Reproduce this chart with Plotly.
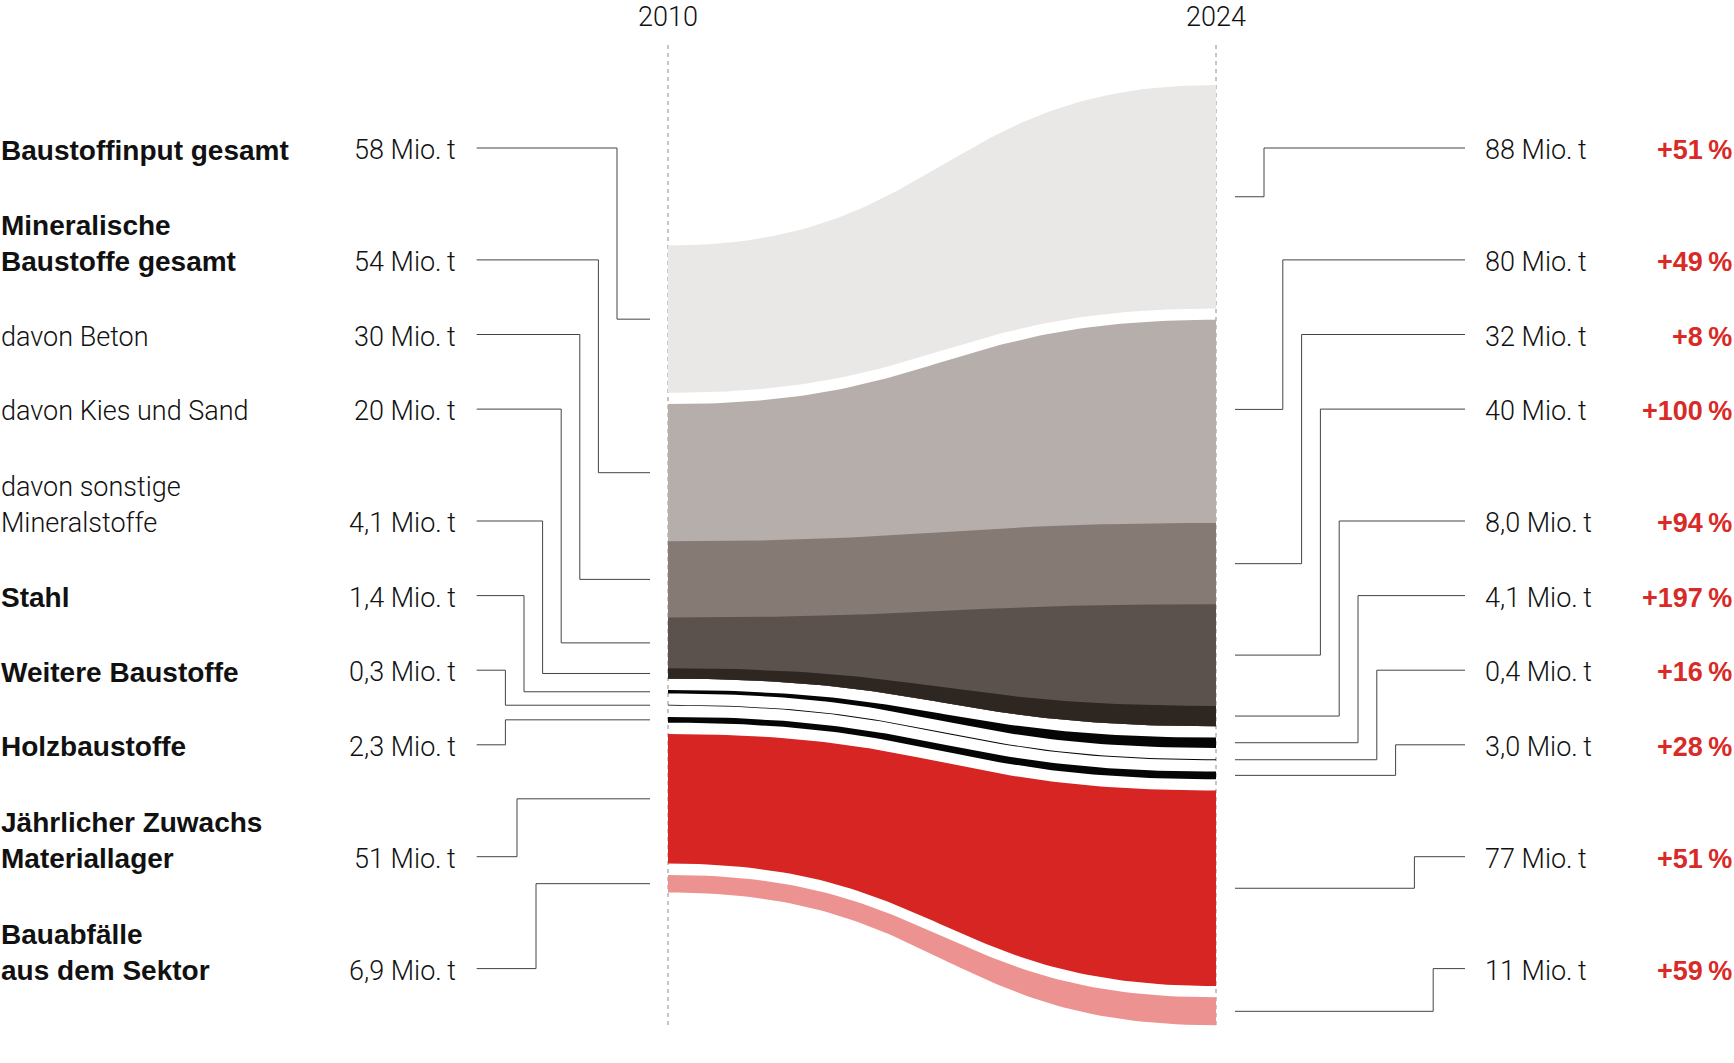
import numpy as np
import plotly.graph_objects as go

# ---------------- data ----------------
years = [2010, 2024]
label_lines = [
    ["Baustoffinput gesamt"],
    ["Mineralische", "Baustoffe gesamt"],
    ["davon Beton"],
    ["davon Kies und Sand"],
    ["davon sonstige", "Mineralstoffe"],
    ["Stahl"],
    ["Weitere Baustoffe"],
    ["Holzbaustoffe"],
    ["Jährlicher Zuwachs", "Materiallager"],
    ["Bauabfälle", "aus dem Sektor"],
]
label_bold = [True, True, False, False, False, True, True, True, True, True]
values_2010 = [58, 54, 30, 20, 4.1, 1.4, 0.3, 2.3, 51, 6.9]
values_2024 = [88, 80, 32, 40, 8.0, 4.1, 0.4, 3.0, 77, 11]
value_text_2010 = ["58", "54", "30", "20", "4,1", "1,4", "0,3", "2,3", "51", "6,9"]
value_text_2024 = ["88", "80", "32", "40", "8,0", "4,1", "0,4", "3,0", "77", "11"]
change_text = ["+51", "+49", "+8", "+100", "+94", "+197", "+16", "+28", "+51", "+59"]
unit = "Mio.\u2009t"

# ---------------- styles / layout ----------------
colors = ["#e9e8e6", "#b5aeab", "#867a75", "#5c524d", "#2d2621",
          "#050505", "#050505", "#050505", "#d62523", "#ec9291"]
gap_before = [False, True, False, False, False, True, True, True, True, True]

W, H = 1734, 1063
X_PX = {2010: 668, 2024: 1216}
K = 2.54             # px per Mio. t
GAP = 11.3 / K       # gap between band groups in Mio. t
TOP_PX = {2010: 245.5, 2024: 85.0}
ROW0, PITCH = 150.0, 74.6
row_units = [0, 1.5, 2.5, 3.5, 5, 6, 7, 8, 9.5, 11]
row_px = [ROW0 + PITCH * u for u in row_units]
left_elbow = [617, 598.4, 579.8, 561.2, 542.6, 524, 505.4, 505.4, 517, 536]
right_elbow = [1264 + 18.8 * i for i in range(10)]
right_shift = [0, -12, 0, 0, 0, 0, 0, 0, 0, 0]
LINE_COL = "#444444"
TXT = "#111111"
RED = "#d82a26"
LIGHT = "Roboto"
BOLD = "Liberation Sans"
FS = 27
FS_BOLD_LABEL = 28

yrs_per_px = (years[1] - years[0]) / (X_PX[2024] - X_PX[2010])
x_range = [years[0] - X_PX[2010] * yrs_per_px, years[0] + (W - X_PX[2010]) * yrs_per_px]
y_range = [H / K, 0]


def stack(vals, top):
    tops, bots = [], []
    y = top
    for i, v in enumerate(vals):
        if gap_before[i]:
            y += GAP
        tops.append(y)
        y += v
        bots.append(y)
    return tops, bots


t10, b10 = stack(values_2010, TOP_PX[2010] / K)
t24, b24 = stack(values_2024, TOP_PX[2024] / K)

# group bottoms (contiguous bands drawn down to the group bottom to avoid seams)
grp_b10, grp_b24 = list(b10), list(b24)
for i in range(len(values_2010)):
    j = i
    while j + 1 < len(values_2010) and not gap_before[j + 1]:
        j += 1
    grp_b10[i], grp_b24[i] = b10[j], b24[j]

s = np.linspace(0, 1, 80)
xf = 1.5 * s - 1.5 * s ** 2 + s ** 3
yf = 3 * s ** 2 - 2 * s ** 3
xs = years[0] + (years[1] - years[0]) * xf

fig = go.Figure()
for i in range(len(values_2010)):
    top = t10[i] + (t24[i] - t10[i]) * yf
    bot = grp_b10[i] + (grp_b24[i] - grp_b10[i]) * yf
    fig.add_trace(go.Scatter(
        x=np.concatenate([xs, xs[::-1]]), y=np.concatenate([top, bot[::-1]]),
        fill="toself", fillcolor=colors[i], mode="lines", line=dict(width=0),
        hoverinfo="skip", showlegend=False))

# leader lines (pixel axes)
LX0, LX1 = 476.7, 650
RX0, RX1 = 1235, 1465
for i in range(len(values_2010)):
    ly = row_px[i] - 2
    c10 = (t10[i] + b10[i]) / 2 * K
    c24 = (t24[i] + b24[i]) / 2 * K + right_shift[i]
    ex = left_elbow[i]
    fig.add_trace(go.Scatter(x=[LX0, ex, ex, LX1], y=[ly, ly, c10, c10], xaxis="x2", yaxis="y2",
                             mode="lines", line=dict(color=LINE_COL, width=1),
                             hoverinfo="skip", showlegend=False))
    ex = right_elbow[i]
    fig.add_trace(go.Scatter(x=[RX0, ex, ex, RX1], y=[c24, c24, ly, ly], xaxis="x2", yaxis="y2",
                             mode="lines", line=dict(color=LINE_COL, width=1),
                             hoverinfo="skip", showlegend=False))

shapes = []
for yr in years:
    shapes.append(dict(type="line", xref="x2", yref="y2", x0=X_PX[yr], x1=X_PX[yr], y0=45, y1=1027,
                       line=dict(color="#8c8c8c", width=1, dash="4px,4px"), layer="below"))

ann = []


def add_text(txt, x, y, anchor, family, weight, color=TXT, size=FS, yanchor="middle"):
    ann.append(dict(text=txt, x=x, y=y, xref="x2", yref="y2", xanchor=anchor, yanchor=yanchor,
                    showarrow=False, borderpad=0,
                    font=dict(family=family, size=size, color=color, weight=weight)))


for yr in years:
    add_text(str(yr), X_PX[yr], 0, "center", LIGHT, 300, yanchor="top")

for i in range(len(values_2010)):
    lines = label_lines[i]
    if label_bold[i]:
        fam, wt, sz = BOLD, 700, FS_BOLD_LABEL
    else:
        fam, wt, sz = LIGHT, 300, FS
    for j, ln in enumerate(lines):
        yy = row_px[i] - 36.5 * (len(lines) - 1 - j)
        add_text(ln, 0, yy, "left", fam, wt, size=sz)
    add_text(value_text_2010[i] + " " + unit, 456.7, row_px[i], "right", LIGHT, 300)
    add_text(value_text_2024[i] + " " + unit, 1483.7, row_px[i], "left", LIGHT, 300)
    add_text(change_text[i] + "\u2009%", 1733, row_px[i], "right", BOLD, 700, RED)

fig.update_layout(
    width=W, height=H, margin=dict(l=0, r=0, t=0, b=0),
    paper_bgcolor="white", plot_bgcolor="white",
    xaxis=dict(range=x_range, visible=False, fixedrange=True),
    yaxis=dict(range=y_range, visible=False, fixedrange=True),
    xaxis2=dict(range=[0, W], visible=False, overlaying="x", fixedrange=True),
    yaxis2=dict(range=[H, 0], visible=False, overlaying="y", fixedrange=True),
    shapes=shapes, annotations=ann, showlegend=False,
)

fig.write_html("out.html", config={"displayModeBar": False},
               post_script="document.body.style.margin='0';")
